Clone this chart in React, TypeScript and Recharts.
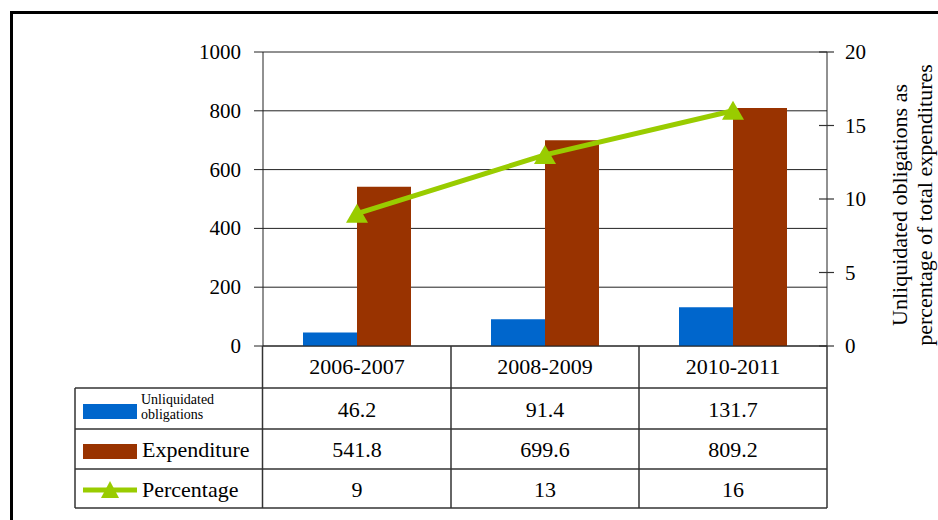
import React from 'react';
import {
  ComposedChart,
  Bar,
  Line,
  XAxis,
  YAxis,
  CartesianGrid,
} from 'recharts';

const periods = ['2006-2007', '2008-2009', '2010-2011'];
const unliquidated = [46.2, 91.4, 131.7];
const expenditure = [541.8, 699.6, 809.2];
const percentage = [9, 13, 16];
const leftTicks = [0, 200, 400, 600, 800, 1000];
const rightTicks = [0, 5, 10, 15, 20];

const BLUE = '#0066CC';
const BROWN = '#993300';
const GREEN = '#99CC00';
const FONT = '"Liberation Serif", "Times New Roman", serif';
const serif = { fontFamily: FONT };

// layout of the plot / table (pixels)
const PLOT_LEFT = 263;
const PLOT_RIGHT = 827;
const TABLE_LEFT = 75;
const BAND = (PLOT_RIGHT - PLOT_LEFT) / periods.length;
const ROW_H = [42, 41, 40, 39]; // header, row1, row2, row3

const data = periods.map((p, i) => ({
  period: p,
  unliquidated: unliquidated[i],
  expenditure: expenditure[i],
  percentage: percentage[i],
}));

const Triangle = (props: any) => {
  const { cx, cy } = props;
  if (cx == null || cy == null) return null;
  return (
    <polygon
      points={`${cx},${cy - 10} ${cx - 11},${cy + 9} ${cx + 11},${cy + 9}`}
      fill={GREEN}
    />
  );
};

// draws the category label plus its column of the data table
const TableTick = (props: any) => {
  const { x, y, payload, index } = props;
  const i = index ?? payload.index;
  const rowTop: number[] = [];
  let acc = y;
  ROW_H.forEach((h) => {
    rowTop.push(acc);
    acc += h;
  });
  const bottom = acc;
  const mid = (r: number) => rowTop[r] + ROW_H[r] / 2 + 8;
  const values = [unliquidated[i], expenditure[i], percentage[i]];
  const colRight = x + BAND / 2;
  const lineColor = '#333';

  return (
    <g>
      <text x={x} y={mid(0) - 1} textAnchor="middle" fontSize={22} fill="#000" style={serif}>
        {payload.value}
      </text>
      {values.map((v, r) => (
        <text key={r} x={x} y={mid(r + 1)} textAnchor="middle" fontSize={22} fill="#000" style={serif}>
          {v}
        </text>
      ))}
      <line x1={colRight} y1={y} x2={colRight} y2={bottom} stroke={lineColor} strokeWidth={1.5} />
      {i === 0 && (
        <g>
          <line x1={PLOT_LEFT - 0.5} y1={y} x2={PLOT_LEFT - 0.5} y2={bottom} stroke={lineColor} strokeWidth={1.5} />
          <line x1={TABLE_LEFT} y1={rowTop[1]} x2={TABLE_LEFT} y2={bottom} stroke={lineColor} strokeWidth={1.5} />
          {[rowTop[1], rowTop[2], rowTop[3], bottom].map((yy, k) => (
            <line key={k} x1={TABLE_LEFT} y1={yy} x2={PLOT_RIGHT} y2={yy} stroke={lineColor} strokeWidth={1.5} />
          ))}
          {/* legend column */}
          <rect x={83} y={rowTop[1] + 16} width={54} height={15} fill={BLUE} />
          <text x={141} y={rowTop[1] + 16} fontSize={14} fill="#000" style={serif}>Unliquidated</text>
          <text x={141} y={rowTop[1] + 31} fontSize={14} fill="#000" style={serif}>obligations</text>
          <rect x={83} y={rowTop[2] + 15} width={54} height={15} fill={BROWN} />
          <text x={142} y={mid(2)} fontSize={22} fill="#000" style={serif}>Expenditure</text>
          <line x1={83} y1={rowTop[3] + 21} x2={137} y2={rowTop[3] + 21} stroke={GREEN} strokeWidth={5} />
          <polygon
            points={`110,${rowTop[3] + 12} 101,${rowTop[3] + 29} 119,${rowTop[3] + 29}`}
            fill={GREEN}
          />
          <text x={142} y={mid(3)} fontSize={22} fill="#000" style={serif}>Percentage</text>
        </g>
      )}
    </g>
  );
};

const LeftTick = (props: any) => {
  const { x, y, payload } = props;
  return (
    <text x={x} y={y + 7} textAnchor="end" fontSize={21} fill="#000" style={serif}>
      {payload.value}
    </text>
  );
};

const RightTick = (props: any) => {
  const { x, y, payload } = props;
  const axisX = x - 18;
  return (
    <g>
      <line x1={axisX - 8} y1={y} x2={axisX + 7} y2={y} stroke="#333" strokeWidth={1.2} />
      <text x={x} y={y + 7} fontSize={21} fill="#000" style={serif}>
        {payload.value}
      </text>
    </g>
  );
};

const RightLabel = (props: any) => {
  const vb = props.viewBox || { x: PLOT_RIGHT, y: 52, height: 294 };
  const cy = vb.y + vb.height / 2 + 6;
  const x1 = vb.x + 80;
  const x2 = vb.x + 105;
  return (
    <g>
      <text x={x1} y={cy} textAnchor="middle" fontSize={22} fill="#000" style={serif} transform={`rotate(-90, ${x1}, ${cy})`}>
        Unliquidated obligations as
      </text>
      <text x={x2} y={cy} textAnchor="middle" fontSize={22} fill="#000" style={serif} transform={`rotate(-90, ${x2}, ${cy})`}>
        percentage of total expenditures
      </text>
    </g>
  );
};

export default function App() {
  return (
    <div style={{ position: 'absolute', left: 0, top: 0, width: 938, height: 520, background: '#fff', overflow: 'hidden', fontFamily: FONT }}>
      <div
        style={{
          position: 'absolute',
          left: 10,
          top: 11,
          width: 1000,
          height: 600,
          borderLeft: '3px solid #000',
          borderTop: '3px solid #000',
        }}
      />
      <div style={{ position: 'absolute', left: 0, top: 0 }}>
        <ComposedChart
          width={938}
          height={520}
          data={data}
          margin={{ top: 52, right: 938 - PLOT_RIGHT - 60, left: PLOT_LEFT - 60, bottom: 12 }}
          barGap={0}
          style={serif}
        >
          <CartesianGrid horizontal vertical={false} stroke="#222" strokeWidth={1} yAxisId="left" />
          <XAxis
            dataKey="period"
            height={162}
            tickLine={false}
            tickSize={0}
            tickMargin={0}
            axisLine={{ stroke: '#222' }}
            interval={0}
            tick={<TableTick />}
          />
          <YAxis
            yAxisId="left"
            domain={[0, 1000]}
            ticks={leftTicks}
            width={60}
            tickSize={9}
            tickMargin={13}
            tickLine={{ stroke: '#222' }}
            axisLine={{ stroke: '#222' }}
            tick={<LeftTick />}
          />
          <YAxis
            yAxisId="right"
            orientation="right"
            domain={[0, 20]}
            ticks={rightTicks}
            width={60}
            tickSize={8}
            tickMargin={10}
            tickLine={false}
            axisLine={{ stroke: '#222' }}
            tick={<RightTick />}
            label={{ content: <RightLabel /> }}
          />
          <Bar yAxisId="left" dataKey="unliquidated" fill={BLUE} barSize={54} isAnimationActive={false} />
          <Bar yAxisId="left" dataKey="expenditure" fill={BROWN} barSize={54} isAnimationActive={false} />
          <Line
            yAxisId="right"
            dataKey="percentage"
            stroke={GREEN}
            strokeWidth={5}
            dot={<Triangle />}
            activeDot={false}
            isAnimationActive={false}
          />
        </ComposedChart>
      </div>
    </div>
  );
}
